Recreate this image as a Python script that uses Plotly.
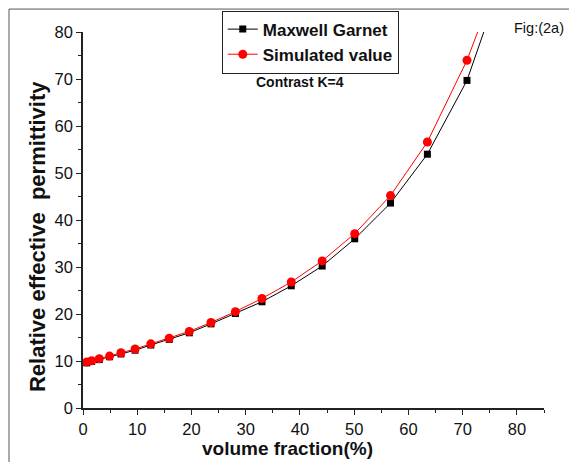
import plotly.graph_objects as go

# Data
volume_fraction = [0.7, 1.6, 3.0, 4.9, 7.0, 9.6, 12.5, 15.9, 19.6, 23.6, 28.1,
                   33.0, 38.4, 44.1, 50.1, 56.7, 63.5, 70.8, 79.0]
maxwell_garnet = [9.6, 9.9, 10.3, 10.9, 11.5, 12.3, 13.4, 14.6, 16.0, 17.9, 20.1,
                  22.6, 26.0, 30.2, 36.0, 43.6, 54.0, 69.7, 97.0]
simulated = [9.8, 10.05, 10.5, 11.05, 11.75, 12.55, 13.65, 14.85, 16.3, 18.2, 20.5,
             23.3, 26.8, 31.3, 37.1, 45.2, 56.6, 74.0, 99.0]
x_ticks = [0, 10, 20, 30, 40, 50, 60, 70, 80]
y_ticks = [0, 10, 20, 30, 40, 50, 60, 70, 80]

FONT = "Arial, Liberation Sans, sans-serif"

fig = go.Figure()
fig.add_trace(go.Scatter(
    x=volume_fraction, y=maxwell_garnet, mode="lines+markers", name="<b>Maxwell Garnet</b>",
    line=dict(color="black", width=1),
    marker=dict(symbol="square", size=7, color="black"),
))
fig.add_trace(go.Scatter(
    x=volume_fraction, y=simulated, mode="lines+markers", name="<b>Simulated value</b>",
    line=dict(color="red", width=1),
    marker=dict(symbol="circle", size=9, color="red"),
))

axis_common = dict(
    showline=True, linecolor="#222", linewidth=1.5, mirror=False,
    ticks="outside", ticklen=5, tickwidth=1.2, tickcolor="#222",
    showgrid=False, zeroline=False,
    tickfont=dict(family=FONT, size=16.5, color="#111"),
)
fig.update_xaxes(range=[0, 85], tickvals=x_ticks,
                 minor=dict(ticks="outside", ticklen=3, dtick=5, tick0=0, tickcolor="#222"),
                 **axis_common)
fig.update_yaxes(range=[0, 80], tickvals=y_ticks,
                 minor=dict(ticks="outside", ticklen=3, dtick=5, tick0=0, tickcolor="#222"),
                 **axis_common)

fig.update_layout(
    width=577, height=462,
    margin=dict(l=75, r=41, t=24, b=62, autoexpand=False),
    paper_bgcolor="white", plot_bgcolor="white",
    font=dict(family=FONT, color="#111"),
    showlegend=True,
    legend=dict(x=0.301, y=1.057, xanchor="left", yanchor="top",
                bgcolor="white", bordercolor="#222", borderwidth=1,
                font=dict(family=FONT, size=17, color="#111"),
                tracegroupgap=0, itemwidth=30),
    annotations=[
        dict(text="<b>volume fraction(%)</b>", xref="paper", yref="paper",
             x=0.443, y=-0.109, xanchor="center", yanchor="middle", showarrow=False,
             font=dict(family=FONT, size=19, color="#111")),
        dict(text="<b>Relative effective  permittivity</b>", xref="paper", yref="paper",
             x=-0.100, y=0.457, xanchor="center", yanchor="middle", showarrow=False,
             textangle=-90, font=dict(family=FONT, size=22, color="#111")),
        dict(text="<b>Contrast K=4</b>", xref="paper", yref="paper",
             x=0.47, y=0.868, xanchor="center", yanchor="middle", showarrow=False,
             font=dict(family=FONT, size=14, color="#111")),
        dict(text="Fig:(2a)", xref="paper", yref="paper",
             x=0.93, y=1.011, xanchor="left", yanchor="middle", showarrow=False,
             font=dict(family=FONT, size=14.5, color="#111")),
    ],
    shapes=[
        dict(type="line", xref="paper", yref="paper",
             x0=-0.1605, x1=-0.1605, y0=-0.2, y1=1.061,
             line=dict(color="#555", width=1)),
        dict(type="line", xref="paper", yref="paper",
             x0=-0.1605, x1=1.2, y0=1.061, y1=1.061,
             line=dict(color="#555", width=1)),
    ],
)

fig.write_html("out.html")
